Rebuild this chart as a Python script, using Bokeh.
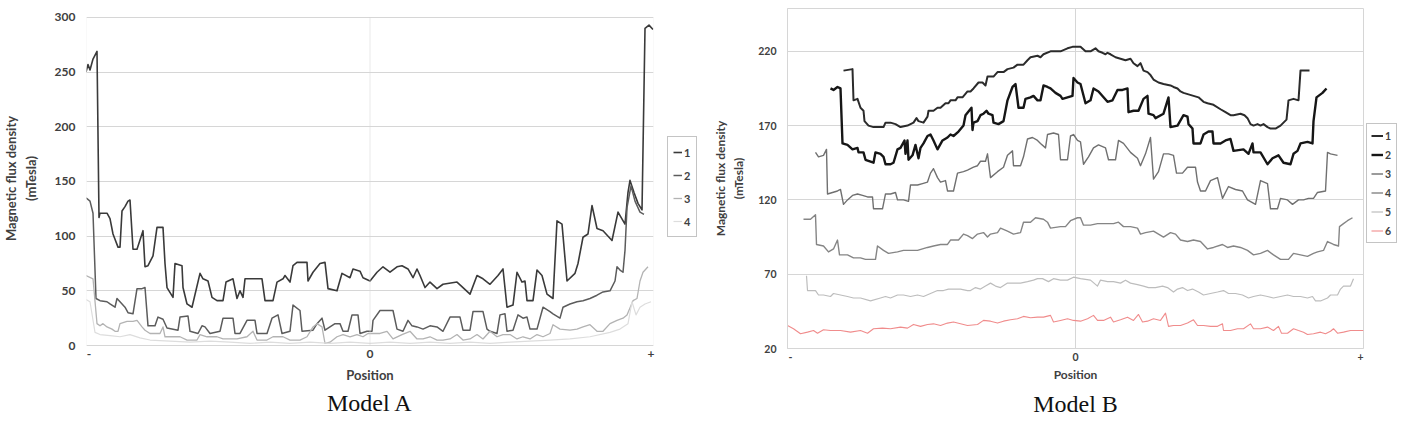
from bokeh.plotting import figure
from bokeh.models import Range1d, FixedTicker, Legend, LegendItem, Title, BoxAnnotation
from bokeh.layouts import row
from bokeh.embed import file_html
from bokeh.resources import INLINE

# ---------------- data ----------------
X_TICK_LABELS = ["-", "0", "+"]
A_X_TICKS = [-281, 0, 281]
B_X_TICKS = [-285, 0, 285]
A_Y_TICKS = [0, 50, 100, 150, 200, 250, 300]
B_Y_TICKS = [20, 70, 120, 170, 220]
A_NAMES = ["1", "2", "3", "4"]
B_NAMES = ["1", "2", "3", "4", "5", "6"]

# Model A series: (position, mTesla)
A1 = [(-284, 250), (-282, 257), (-280, 252), (-277, 262), (-273, 269), (-271, 117), (-270, 121), (-263, 121),
      (-260, 116), (-257, 102), (-252, 90), (-250, 90), (-248, 123), (-245, 127), (-242, 132), (-240, 133),
      (-237, 88), (-233, 88), (-227, 105), (-225, 72), (-222, 73), (-217, 82), (-213, 108), (-207, 108),
      (-205, 75), (-203, 53), (-197, 44), (-195, 75), (-188, 73), (-187, 53), (-183, 38), (-178, 35),
      (-170, 66), (-167, 61), (-162, 59), (-158, 44), (-153, 41), (-147, 41), (-144, 58), (-137, 61),
      (-133, 43), (-130, 50), (-127, 44), (-125, 61), (-108, 61), (-105, 41), (-97, 41), (-93, 58),
      (-87, 61), (-85, 64), (-80, 58), (-77, 73), (-73, 76), (-63, 76), (-62, 59), (-57, 67),
      (-50, 75), (-45, 76), (-42, 52), (-33, 50), (-28, 66), (-20, 62), (-17, 70), (-10, 68),
      (-7, 62), (0, 59), (7, 67), (13, 72), (20, 67), (27, 72), (32, 73), (38, 70),
      (43, 62), (47, 70), (50, 64), (55, 53), (60, 58), (67, 52), (73, 56), (87, 58),
      (93, 53), (100, 47), (107, 64), (113, 61), (120, 56), (128, 64), (133, 70), (137, 35),
      (143, 37), (147, 67), (152, 58), (155, 59), (157, 41), (163, 41), (167, 69), (172, 64),
      (177, 47), (183, 43), (187, 114), (192, 111), (197, 59), (205, 66), (208, 75), (213, 99),
      (218, 102), (222, 128), (227, 107), (233, 105), (242, 96), (248, 122), (255, 111), (258, 140),
      (260, 151), (264, 140), (268, 130), (272, 124), (275, 290), (279, 293), (283, 289)]
A2 = [(-284, 135), (-280, 132), (-277, 121), (-274, 43), (-270, 41), (-263, 40), (-260, 38), (-255, 35),
      (-253, 43), (-250, 40), (-245, 35), (-242, 30), (-237, 29), (-233, 52), (-228, 52), (-225, 53),
      (-222, 18), (-215, 18), (-212, 26), (-207, 24), (-203, 16), (-192, 14), (-190, 26), (-182, 27),
      (-180, 13), (-172, 11), (-168, 18), (-165, 17), (-160, 11), (-150, 13), (-147, 25), (-137, 25),
      (-135, 11), (-130, 11), (-123, 23), (-115, 23), (-113, 11), (-103, 11), (-98, 25), (-92, 28),
      (-88, 11), (-80, 13), (-77, 37), (-70, 32), (-68, 13), (-57, 14), (-53, 20), (-48, 25),
      (-45, 14), (-40, 17), (-35, 20), (-30, 20), (-27, 13), (-22, 13), (-18, 28), (-12, 28),
      (-10, 11), (-3, 13), (2, 13), (3, 23), (10, 32), (23, 32), (27, 15), (33, 13),
      (38, 23), (42, 18), (47, 17), (53, 15), (60, 18), (67, 17), (73, 13), (80, 26),
      (90, 26), (93, 14), (100, 14), (103, 31), (113, 31), (117, 15), (120, 13), (127, 11),
      (130, 28), (135, 29), (137, 13), (143, 14), (148, 28), (153, 25), (157, 26), (160, 15),
      (167, 15), (173, 35), (180, 31), (183, 29), (190, 25), (193, 35), (200, 38), (207, 40),
      (213, 41), (220, 43), (227, 46), (233, 49), (240, 50), (245, 59), (247, 72), (250, 69),
      (253, 67), (255, 87), (257, 126), (261, 146), (265, 132), (270, 122), (274, 120)]
A3 = [(-284, 64), (-277, 61), (-273, 20), (-270, 18), (-267, 20), (-263, 17), (-258, 15), (-255, 13),
      (-252, 13), (-250, 20), (-243, 22), (-237, 22), (-233, 23), (-228, 17), (-225, 14), (-220, 11),
      (-210, 11), (-207, 17), (-205, 8), (-190, 8), (-183, 5), (-173, 5), (-170, 10), (-163, 8),
      (-153, 8), (-147, 6), (-133, 6), (-123, 8), (-117, 13), (-113, 5), (-103, 5), (-97, 8),
      (-87, 8), (-80, 5), (-70, 5), (-63, 8), (-57, 17), (-53, 20), (-48, 17), (-45, 2),
      (-40, 3), (-33, 8), (-27, 10), (-20, 8), (-13, 10), (-7, 8), (-2, 11), (10, 11),
      (17, 13), (23, 6), (32, 10), (40, 13), (47, 6), (53, 6), (60, 8), (67, 5),
      (73, 5), (80, 6), (87, 10), (93, 5), (100, 6), (107, 10), (113, 6), (120, 13),
      (127, 8), (133, 10), (140, 10), (147, 6), (153, 8), (160, 6), (167, 10), (173, 8),
      (180, 11), (183, 19), (190, 15), (200, 14), (207, 15), (213, 17), (220, 19), (227, 13),
      (233, 13), (240, 20), (247, 23), (253, 25), (257, 28), (263, 41), (267, 43), (270, 59),
      (273, 67), (278, 72)]
A4 = [(-284, 42), (-280, 40), (-275, 12), (-270, 10), (-260, 9), (-250, 8), (-240, 10), (-230, 7),
      (-220, 5), (-200, 4), (-180, 3), (-160, 4), (-140, 3), (-120, 2), (-100, 3), (-80, 2),
      (-60, 3), (-40, 2), (-20, 3), (0, 2), (20, 3), (40, 2), (60, 3), (80, 2),
      (100, 3), (120, 2), (140, 3), (160, 4), (180, 5), (200, 6), (220, 8), (240, 12),
      (250, 15), (258, 20), (262, 40), (266, 28), (270, 35), (275, 38), (281, 40)]

# Model B series: (position, mTesla)
B1 = [(-232, 207), (-223, 208), (-222, 187), (-218, 188), (-215, 182), (-212, 180), (-211, 173), (-207, 170),
      (-202, 169), (-192, 169), (-190, 172), (-185, 172), (-180, 171), (-175, 169), (-168, 170), (-162, 172),
      (-159, 175), (-157, 173), (-152, 172), (-148, 176), (-147, 180), (-142, 180), (-138, 182), (-135, 182),
      (-130, 185), (-127, 185), (-125, 187), (-120, 187), (-118, 189), (-113, 189), (-108, 193), (-105, 193),
      (-102, 195), (-97, 199), (-93, 199), (-90, 197), (-88, 203), (-82, 203), (-78, 206), (-72, 206),
      (-68, 208), (-62, 209), (-58, 211), (-52, 211), (-48, 214), (-45, 216), (-38, 217), (-35, 216),
      (-32, 218), (-25, 220), (-15, 220), (-8, 222), (-3, 223), (5, 223), (10, 220), (15, 220),
      (20, 222), (23, 220), (27, 219), (30, 218), (32, 219), (35, 218), (40, 216), (45, 215),
      (50, 214), (55, 215), (58, 212), (62, 210), (65, 212), (68, 207), (72, 206), (75, 204),
      (78, 201), (83, 199), (88, 198), (95, 197), (98, 196), (102, 195), (105, 193), (108, 192),
      (113, 191), (118, 190), (123, 189), (128, 186), (132, 185), (138, 184), (145, 181), (150, 179),
      (155, 177), (158, 177), (165, 178), (169, 177), (172, 175), (175, 171), (178, 170), (182, 171),
      (185, 170), (188, 171), (192, 169), (195, 168), (200, 168), (205, 170), (211, 174), (213, 187),
      (218, 188), (223, 187), (225, 207), (234, 207)]
B2 = [(-245, 195), (-242, 194), (-238, 196), (-235, 195), (-233, 158), (-228, 157), (-223, 154), (-218, 155),
      (-217, 152), (-212, 152), (-210, 147), (-202, 145), (-200, 152), (-195, 151), (-192, 149), (-190, 144),
      (-185, 144), (-182, 145), (-178, 154), (-175, 155), (-171, 160), (-170, 151), (-168, 160), (-167, 147),
      (-163, 150), (-160, 157), (-157, 148), (-155, 155), (-152, 158), (-148, 163), (-145, 164), (-142, 160),
      (-138, 154), (-133, 160), (-128, 162), (-125, 164), (-122, 163), (-117, 166), (-112, 170), (-110, 177),
      (-104, 182), (-103, 167), (-102, 172), (-98, 173), (-95, 177), (-92, 178), (-89, 180), (-87, 178),
      (-83, 177), (-82, 172), (-77, 171), (-72, 173), (-68, 187), (-63, 196), (-60, 198), (-57, 182),
      (-52, 182), (-50, 188), (-45, 189), (-42, 190), (-38, 187), (-35, 187), (-32, 197), (-28, 196),
      (-25, 195), (-20, 192), (-15, 190), (-13, 188), (-8, 189), (-3, 190), (-2, 202), (2, 199),
      (5, 198), (10, 185), (15, 187), (18, 195), (23, 193), (32, 186), (37, 187), (42, 194),
      (47, 194), (52, 195), (53, 179), (58, 180), (63, 180), (68, 188), (72, 190), (73, 178),
      (78, 177), (80, 175), (88, 178), (93, 189), (95, 169), (102, 170), (108, 177), (112, 176),
      (113, 171), (117, 168), (118, 158), (125, 158), (128, 164), (133, 166), (137, 166), (138, 158),
      (145, 158), (150, 160), (155, 161), (158, 153), (168, 154), (173, 151), (177, 158), (178, 152),
      (185, 152), (192, 144), (197, 148), (203, 150), (208, 145), (215, 144), (218, 151), (222, 153),
      (225, 158), (232, 159), (237, 158), (238, 173), (241, 189), (247, 192), (251, 195)]
B3 = [(-260, 152), (-257, 149), (-252, 150), (-249, 154), (-248, 124), (-243, 125), (-238, 126), (-235, 127),
      (-232, 117), (-228, 120), (-223, 123), (-218, 124), (-213, 123), (-208, 122), (-203, 122), (-202, 114),
      (-193, 114), (-190, 124), (-185, 124), (-180, 125), (-178, 120), (-172, 120), (-167, 119), (-165, 130),
      (-158, 130), (-153, 131), (-148, 132), (-145, 138), (-142, 141), (-138, 135), (-135, 132), (-130, 133),
      (-128, 126), (-122, 126), (-118, 138), (-112, 139), (-108, 140), (-102, 142), (-98, 143), (-95, 146),
      (-90, 146), (-88, 151), (-85, 135), (-78, 139), (-72, 142), (-68, 150), (-63, 153), (-62, 143),
      (-55, 143), (-52, 149), (-48, 161), (-43, 162), (-38, 160), (-35, 158), (-30, 155), (-28, 164),
      (-22, 165), (-17, 164), (-15, 147), (-8, 147), (-5, 163), (-2, 164), (2, 160), (5, 159),
      (8, 144), (13, 149), (18, 155), (23, 157), (30, 155), (33, 147), (40, 147), (43, 160),
      (48, 158), (55, 152), (62, 148), (65, 143), (70, 151), (75, 162), (78, 134), (83, 139),
      (88, 151), (93, 151), (98, 150), (101, 138), (107, 138), (112, 142), (120, 142), (122, 132),
      (125, 126), (130, 126), (135, 133), (142, 135), (147, 121), (153, 129), (160, 127), (167, 126),
      (172, 120), (180, 117), (185, 133), (192, 131), (195, 114), (202, 114), (205, 121), (212, 120),
      (217, 117), (223, 120), (228, 120), (233, 121), (238, 121), (242, 125), (250, 126), (252, 152),
      (255, 151), (262, 150)]
B4 = [(-272, 107), (-265, 107), (-260, 110), (-259, 90), (-252, 89), (-247, 85), (-242, 87), (-238, 93),
      (-236, 83), (-228, 83), (-222, 81), (-215, 81), (-210, 80), (-205, 80), (-200, 80), (-198, 89),
      (-192, 86), (-187, 84), (-178, 85), (-172, 86), (-165, 86), (-158, 86), (-153, 87), (-148, 88),
      (-142, 89), (-135, 90), (-128, 90), (-125, 93), (-117, 93), (-112, 97), (-108, 96), (-103, 94),
      (-98, 97), (-92, 98), (-88, 95), (-85, 97), (-78, 98), (-75, 101), (-68, 99), (-62, 97),
      (-55, 98), (-52, 105), (-45, 105), (-40, 108), (-32, 107), (-28, 105), (-25, 101), (-15, 102),
      (-10, 102), (-5, 106), (2, 108), (5, 108), (8, 103), (15, 103), (22, 104), (32, 104),
      (38, 104), (43, 105), (48, 102), (55, 102), (62, 101), (65, 97), (70, 98), (78, 99),
      (83, 97), (88, 95), (95, 98), (100, 97), (105, 93), (112, 92), (118, 93), (125, 92),
      (132, 87), (138, 88), (147, 90), (152, 88), (158, 89), (165, 88), (172, 86), (178, 83),
      (185, 84), (192, 86), (198, 83), (205, 80), (213, 80), (218, 84), (225, 83), (232, 82),
      (238, 84), (242, 85), (248, 86), (252, 92), (258, 90), (263, 89), (264, 102), (268, 104),
      (272, 106), (277, 108)]
B5 = [(-269, 69), (-268, 59), (-260, 59), (-257, 56), (-252, 56), (-245, 55), (-242, 57), (-235, 56),
      (-228, 55), (-222, 54), (-215, 54), (-205, 52), (-195, 54), (-190, 55), (-185, 54), (-178, 56),
      (-172, 56), (-165, 55), (-158, 56), (-152, 55), (-145, 57), (-138, 59), (-132, 59), (-127, 60),
      (-122, 60), (-115, 60), (-108, 59), (-105, 59), (-100, 61), (-95, 60), (-90, 62), (-85, 64),
      (-80, 62), (-75, 61), (-68, 64), (-62, 64), (-55, 64), (-48, 65), (-42, 66), (-38, 67),
      (-33, 67), (-30, 66), (-27, 65), (-22, 67), (-15, 66), (-8, 66), (-2, 68), (5, 67),
      (15, 66), (22, 62), (25, 66), (32, 65), (38, 65), (45, 64), (50, 66), (55, 64),
      (62, 63), (68, 62), (73, 61), (80, 61), (87, 62), (92, 61), (98, 58), (102, 60),
      (107, 61), (112, 59), (117, 60), (123, 58), (128, 56), (135, 57), (142, 58), (148, 59),
      (153, 57), (160, 57), (167, 56), (173, 54), (178, 55), (185, 56), (192, 55), (198, 54),
      (205, 55), (212, 56), (218, 55), (225, 55), (232, 54), (237, 55), (240, 52), (245, 52),
      (252, 54), (255, 56), (262, 56), (265, 60), (268, 62), (275, 62), (278, 67)]
B6 = [(-288, 35.5), (-282, 33.3), (-275, 29.9), (-268, 31), (-262, 32.1), (-258, 30.3), (-252, 32.6), (-245, 32.1),
      (-235, 32.1), (-225, 31), (-215, 32.1), (-208, 30.3), (-202, 33.3), (-193, 33.7), (-185, 33.3), (-175, 34.4),
      (-168, 33.7), (-162, 36.2), (-155, 34.9), (-148, 36.2), (-142, 36.6), (-135, 35.5), (-128, 37.1), (-122, 37.8),
      (-115, 36.6), (-108, 35.5), (-98, 36.2), (-92, 38.9), (-85, 38.4), (-78, 37.1), (-72, 38.4), (-65, 39.3),
      (-58, 40), (-52, 41.6), (-45, 40.7), (-38, 41.1), (-32, 41.1), (-25, 42.3), (-22, 37.8), (-15, 38.9),
      (-8, 40), (-2, 38.9), (5, 38.4), (12, 40), (18, 42.3), (22, 38.9), (28, 38.9), (35, 41.1),
      (38, 37.8), (45, 39.3), (52, 41.1), (58, 38.9), (63, 42.9), (67, 37.8), (72, 38.4), (78, 40),
      (85, 38.9), (90, 43.8), (93, 34.9), (98, 35.5), (105, 35.5), (112, 37.1), (118, 39.3), (122, 35.5),
      (128, 35.5), (135, 34.9), (142, 34.9), (147, 36.6), (148, 32.1), (155, 32.1), (162, 33.3), (168, 33.3),
      (175, 36.6), (178, 33.3), (185, 33.3), (192, 34.4), (198, 32.1), (203, 34.9), (206, 30.3), (212, 30.3),
      (218, 33.3), (223, 32.1), (228, 31), (232, 29.4), (238, 29.9), (245, 31), (250, 29.9), (255, 31.6),
      (258, 33.3), (262, 30.3), (268, 31), (275, 32.1), (282, 32.1), (288, 32.1)]

A_SERIES = [A1, A2, A3, A4]
B_SERIES = [B1, B2, B3, B4, B5, B6]
A_COLORS = ["#3a3a3a", "#5c5c5c", "#b3b3b3", "#dddddd"]
A_WIDTHS = [1.6, 1.5, 1.3, 1.2]
B_COLORS = ["#2b2b2b", "#161616", "#707070", "#858585", "#bdbdbd", "#f08c8c"]
B_WIDTHS = [2.0, 2.4, 1.4, 1.4, 1.2, 1.1]

GRID = "#d6d6d6"
TXT = "#404040"
SANS = "Lato"
TOP, BOTTOM = 8, 75          # shared frame margins (frames are aligned in the row)


def make_panel(series, colors, widths, xr, yr, xticks, yticks, caption, width,
               left, tick_size, label_size, ylab_size, ylab_standoff,
               xtick_standoff, xlab_standoff, cap_standoff, area=None):
    p = figure(width=width, height=423, output_backend="svg", toolbar_location=None,
               x_range=Range1d(*xr), y_range=Range1d(*yr),
               min_border_left=left, min_border_right=2,
               min_border_top=TOP, min_border_bottom=BOTTOM)
    p.background_fill_color = "white"
    p.border_fill_color = "white"

    for s, c, w in zip(series, colors, widths):
        p.line([pt[0] for pt in s], [pt[1] for pt in s], line_color=c, line_width=w, line_join="round")

    p.xaxis.ticker = FixedTicker(ticks=xticks)
    p.xaxis.major_label_overrides = {t: l for t, l in zip(xticks, X_TICK_LABELS)}
    p.yaxis.ticker = FixedTicker(ticks=yticks)
    for ax in (p.xaxis[0], p.yaxis[0]):
        ax.axis_line_color = GRID if area is None else None
        ax.major_tick_line_color = None
        ax.minor_tick_line_color = None
        ax.major_tick_out = 0
        ax.major_tick_in = 0
        ax.minor_tick_out = 0
        ax.major_label_text_font = SANS
        ax.major_label_text_font_style = "bold"
        ax.major_label_text_color = TXT
        ax.major_label_text_font_size = tick_size
        ax.axis_label_text_font = SANS
        ax.axis_label_text_font_style = "bold"
        ax.axis_label_text_color = TXT
    p.xaxis.axis_label = "Position"
    p.xaxis.axis_label_text_font_size = label_size
    p.xaxis.major_label_standoff = xtick_standoff
    p.xaxis.axis_label_standoff = xlab_standoff
    p.yaxis.axis_label = "Magnetic flux density\n(mTesla)"
    p.yaxis.axis_label_text_font_size = ylab_size
    p.yaxis.major_label_standoff = 11
    p.yaxis.axis_label_standoff = ylab_standoff

    p.ygrid.ticker = FixedTicker(ticks=yticks)
    p.ygrid.grid_line_color = GRID
    if area is None:
        p.outline_line_color = GRID
        p.xgrid.ticker = FixedTicker(ticks=[0])
        p.xgrid.grid_line_color = GRID
    else:
        # plot area smaller than the aligned frame: draw its border and centre line
        p.outline_line_color = None
        p.xgrid.grid_line_color = None
        x0, x1, y0, y1 = area
        p.add_layout(BoxAnnotation(left=x0, right=x1, bottom=y0, top=y1, fill_alpha=0,
                                   line_color=GRID, line_width=1))
        p.add_layout(BoxAnnotation(left=0, right=0, bottom=y0, top=y1, fill_alpha=0,
                                   line_color=GRID, line_width=1))

    p.add_layout(Title(text=caption, align="center", text_font="Liberation Serif",
                       text_font_size="24px", text_font_style="normal",
                       text_color="#111111", standoff=cap_standoff), "below")
    return p


def make_legend(series, names, colors, widths, width, lx, ly, lh, sp, pad, gw, lfs):
    # a narrow strip beside the chart; the series lines fall outside its ranges,
    # so only the legend itself is visible
    q = figure(width=width, height=423, output_backend="svg", toolbar_location=None,
               x_range=Range1d(0, 1), y_range=Range1d(-2, -1),
               x_axis_location=None, y_axis_location=None,
               min_border_left=0, min_border_right=0,
               min_border_top=TOP, min_border_bottom=BOTTOM)
    q.outline_line_color = None
    q.grid.visible = False
    q.background_fill_color = "white"
    q.border_fill_color = "white"
    rs = [q.line([pt[0] for pt in s], [pt[1] for pt in s], line_color=c, line_width=w)
          for s, c, w in zip(series, colors, widths)]
    leg = Legend(items=[LegendItem(label=n, renderers=[r]) for n, r in zip(names, rs)],
                 location=(lx, ly), margin=0, padding=pad, spacing=sp,
                 label_height=lh, glyph_height=lh, glyph_width=gw, label_width=7,
                 label_standoff=2,
                 label_text_font=SANS, label_text_font_style="bold",
                 label_text_font_size=lfs, label_text_color=TXT,
                 border_line_color="#8a8a8a", border_line_width=1,
                 background_fill_color="white", background_fill_alpha=1)
    q.add_layout(leg)
    return q


# Model A: plot area 0..300 drawn inside the shared frame (y range padded to match its pixel scale)
pA = make_panel(A_SERIES, A_COLORS, A_WIDTHS, (-283.5, 283.5), (-2.74, 308.2),
                A_X_TICKS, A_Y_TICKS, "Model A", 655, 86, "12px", "13px", "13px", 13,
                1, 6, 5, area=(-283.5, 283.5, 0, 300))
legA = make_legend(A_SERIES, A_NAMES, A_COLORS, A_WIDTHS, 54, 12, 111, 20, 3, 5, 9, "11px")
pB = make_panel(B_SERIES, B_COLORS, B_WIDTHS, (-288, 288), (20, 248.8),
                B_X_TICKS, B_Y_TICKS, "Model B", 656, 78, "10.5px", "12px", "12px", 9,
                4, 3, 8)
legB = make_legend(B_SERIES, B_NAMES, B_COLORS, B_WIDTHS, 36, 1, 105, 15, 4, 4, 12, "10.5px")

layout = row(pA, legA, pB, legB)
open("out.html", "w").write(file_html(layout, INLINE))
